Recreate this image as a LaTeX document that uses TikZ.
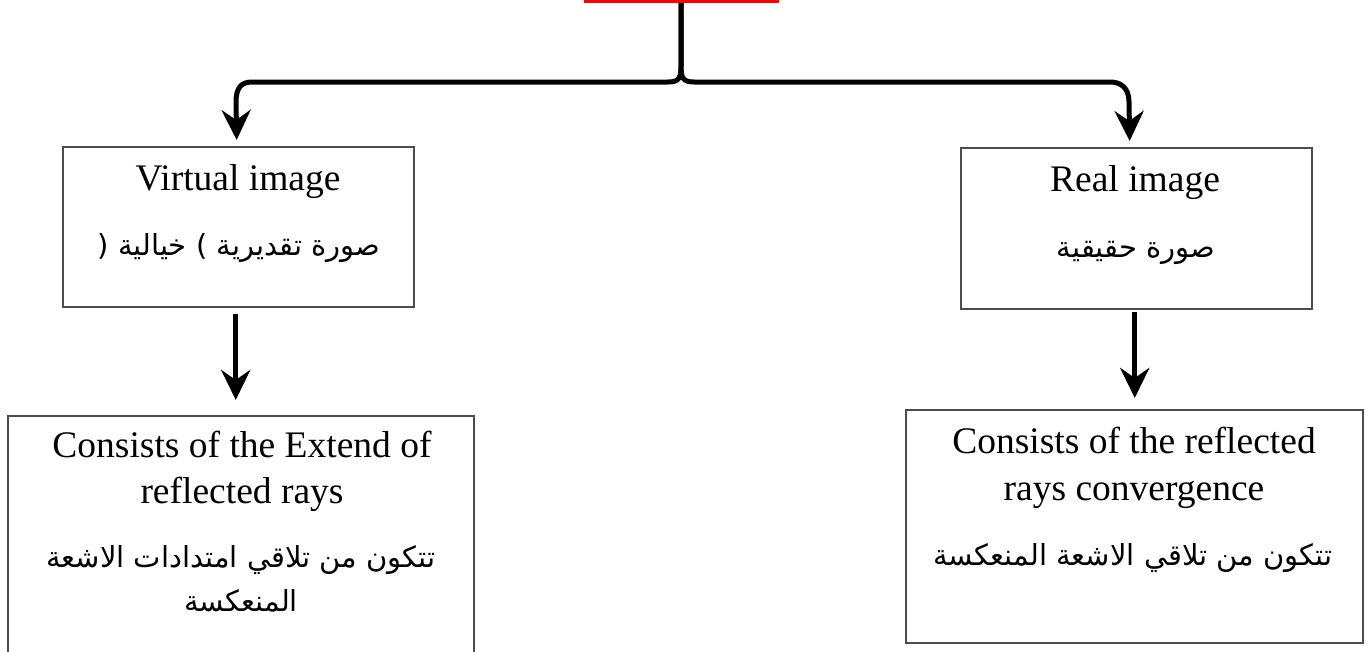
\documentclass[tikz,border=0pt]{standalone}
\usepackage{fontspec}
\setmainfont{Liberation Serif}
\newfontfamily\arabicfont[Script=Arabic]{DejaVu Sans}
\TeXXeTstate=1
\usetikzlibrary{arrows.meta}
\begin{document}
\begin{tikzpicture}[x=1pt,y=-1pt,
  box/.style={draw=black!70, line width=1.5pt, inner sep=0pt, anchor=north west},
  en/.style={font=\fontsize{37.5}{40}\selectfont, inner sep=0pt, anchor=base},
  ar/.style={font=\arabicfont\fontsize{29}{34}\selectfont, inner sep=0pt, anchor=base},
  conn/.style={line width=5pt, shorten >=6pt, -{Stealth[length=30pt,width=29pt,inset=10pt]}},
]
\useasboundingbox (0,0) rectangle (1367,651);
\fill[white] (0,0) rectangle (1367,651);

% top red box (cut off by the page edge)
\node[fill=red, draw=none, minimum width=195pt, minimum height=10pt, inner sep=0pt, anchor=south] (root) at (681,3) {};

% boxes
\node[box, minimum width=351pt, minimum height=160pt] (virt) at (62,146) {};
\node[box, minimum width=351pt, minimum height=161pt] (real) at (960,147) {};
\node[box, minimum width=466pt, minimum height=262pt] (vext) at (7,415) {};
\node[box, minimum width=457pt, minimum height=233pt] (rconv) at (905,409) {};

% texts
\node[en] (t1) at (238,190) {Virtual image};
\node[ar] (t2) at (239,255) {\beginR صورة تقديرية ) خيالية (\endR};
\node[en] (t3) at (1135,191) {Real image};
\node[ar] (t4) at (1136,257) {\beginR صورة حقيقية\endR};
\node[en] (t5) at (242,457) {Consists of the Extend of};
\node[en] (t6) at (242,503) {reflected rays};
\node[ar] (t7) at (241,567) {\beginR تتكون من تلاقي امتدادات الاشعة\endR};
\node[ar] (t8) at (241,611) {\beginR المنعكسة\endR};
\node[en] (t9) at (1134,453) {Consists of the reflected};
\node[en] (t10) at (1134,500) {rays convergence};
\node[ar] (t11) at (1133,565) {\beginR تتكون من تلاقي الاشعة المنعكسة\endR};

% brace connectors
\draw[conn] (root.south) -- (681,66) .. controls (681,78) and (679,82) .. (668,82)
  -- (252,82) .. controls (241,82) and (236,88) .. (236,102) -- ([xshift=-1.5pt]virt.north);
\draw[conn] (root.south) -- (681,66) .. controls (681,78) and (683,82) .. (694,82)
  -- (1110,82) .. controls (1121,82) and (1129,88) .. (1129,102) -- ([xshift=-6.5pt]real.north);

% lower arrows
\draw[conn, shorten >=15pt] ([xshift=-2.5pt,yshift=-6pt]virt.south) -- ([xshift=-2.5pt]virt.south |- vext.north);
\draw[conn, shorten >=11pt] ([xshift=-1.5pt,yshift=-2pt]real.south) -- ([xshift=-1.5pt]real.south |- rconv.north);
\end{tikzpicture}
\end{document}
